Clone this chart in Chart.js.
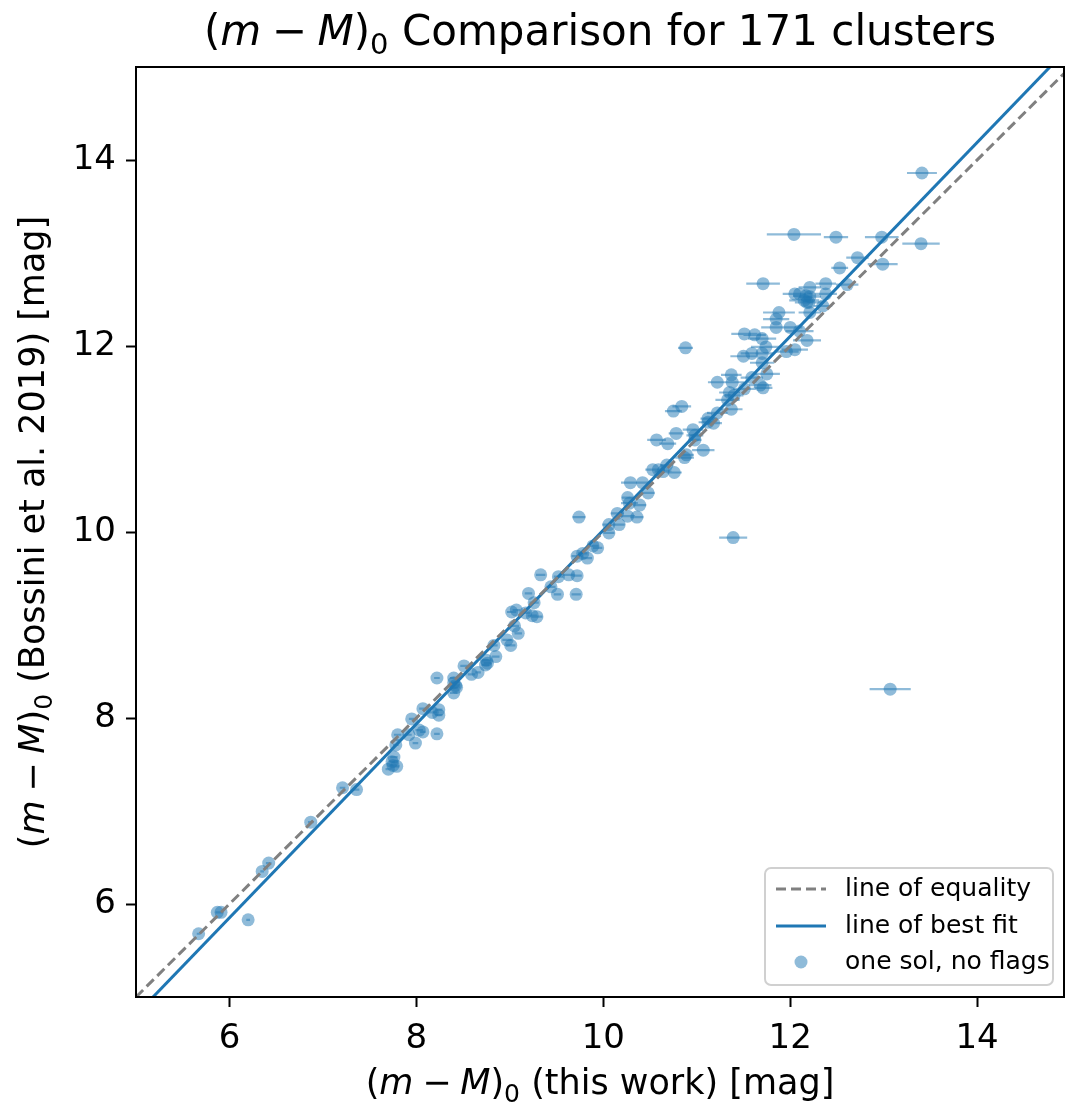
<!DOCTYPE html>
<html>
<head>
<meta charset="utf-8">
<script src="https://cdn.jsdelivr.net/npm/chart.js@4.4.1/dist/chart.umd.min.js"></script>
<style>
  html, body { margin: 0; padding: 0; background: #fff; }
  #wrap { width: 1066px; height: 1108px; }
</style>
</head>
<body>
<div id="wrap"><canvas id="myChart" width="1066" height="1108"></canvas></div>
<script>
// distance moduli: this work (x), Bossini et al. 2019 (y), x error half-width
const thisWork = [
    5.67, 5.87, 5.91, 6.20, 6.35, 6.42, 6.87, 7.21, 7.36, 7.70,
    7.75, 7.79, 7.76, 7.74, 7.78, 7.80, 7.95, 7.92, 7.99, 8.03,
    8.07, 8.22, 8.07, 8.17, 8.24, 8.24, 8.22, 8.40, 8.42, 8.43,
    8.40, 8.40, 8.51, 8.59, 8.66, 8.75, 8.76, 8.74, 8.85, 8.83,
    8.97, 9.01, 9.05, 9.09, 9.02, 9.07, 9.17, 9.29, 9.24, 9.20,
    9.26, 9.33, 9.44, 9.51, 9.71, 9.52, 9.63, 9.72, 9.74, 9.72,
    9.78, 9.83, 9.89, 9.94, 10.06, 10.06, 10.15, 10.17, 10.26, 10.36,
    10.28, 10.39, 10.26, 10.48, 10.29, 10.42, 10.53, 10.59, 10.64, 10.68,
    10.76, 10.87, 10.89, 11.07, 10.57, 10.69, 10.78, 10.96, 10.98, 10.98,
    11.12, 11.12, 11.18, 11.22, 10.75, 10.84, 11.37, 11.33, 11.40, 11.35,
    11.51, 11.22, 11.38, 11.37, 11.68, 11.71, 11.75, 11.59, 11.70, 10.88,
    11.50, 11.59, 11.70, 11.74, 11.51, 11.62, 11.70, 11.96, 12.05, 12.18,
    11.85, 11.85, 11.88, 12.00, 12.10, 12.21, 12.20, 12.04, 12.49, 12.98,
    13.40, 13.41, 12.72, 12.99, 12.53, 11.71, 12.21, 12.38, 12.61, 12.05,
    12.10, 12.17, 12.21, 12.15, 12.18, 12.38, 12.35, 13.07, 11.39
];
const bossini = [
    5.68, 5.91, 5.91, 5.83, 6.35, 6.44, 6.88, 7.25, 7.23, 7.45,
    7.49, 7.48, 7.58, 7.53, 7.71, 7.82, 7.99, 7.82, 7.73, 7.87,
    7.85, 7.83, 8.10, 8.06, 8.09, 8.03, 8.43, 8.43, 8.35, 8.33,
    8.27, 8.38, 8.56, 8.47, 8.49, 8.62, 8.59, 8.57, 8.66, 8.78,
    8.84, 8.78, 8.99, 8.91, 9.14, 9.16, 9.13, 9.09, 9.10, 9.34,
    9.24, 9.54, 9.41, 9.33, 9.33, 9.52, 9.54, 9.53, 10.16, 9.74,
    9.77, 9.72, 9.85, 9.83, 10.08, 9.99, 10.20, 10.08, 10.17, 10.16,
    10.31, 10.29, 10.37, 10.42, 10.53, 10.53, 10.67, 10.67, 10.65, 10.72,
    10.64, 10.80, 10.83, 10.88, 10.99, 10.95, 11.06, 11.10, 11.04, 10.99,
    11.18, 11.22, 11.17, 11.28, 11.30, 11.35, 11.32, 11.42, 11.47, 11.50,
    11.54, 11.61, 11.61, 11.69, 11.58, 11.55, 11.70, 11.66, 11.82, 11.98,
    11.89, 11.92, 11.92, 11.99, 12.13, 12.12, 12.08, 11.94, 11.96, 12.06,
    12.20, 12.29, 12.36, 12.20, 12.16, 12.36, 12.47, 13.20, 13.17, 13.17,
    13.10, 13.86, 12.95, 12.88, 12.84, 12.67, 12.63, 12.67, 12.66, 12.56,
    12.56, 12.54, 12.53, 12.49, 12.47, 12.56, 12.43, 8.31, 9.94
];
const xErr = [
    0.02, 0.02, 0.02, 0.02, 0.02, 0.03, 0.03, 0.03, 0.03, 0.03,
    0.04, 0.03, 0.04, 0.03, 0.03, 0.04, 0.03, 0.03, 0.03, 0.04,
    0.03, 0.03, 0.04, 0.05, 0.04, 0.04, 0.03, 0.04, 0.05, 0.04,
    0.04, 0.03, 0.04, 0.04, 0.03, 0.05, 0.04, 0.04, 0.04, 0.04,
    0.05, 0.05, 0.05, 0.04, 0.05, 0.04, 0.05, 0.06, 0.05, 0.04,
    0.05, 0.05, 0.05, 0.04, 0.05, 0.05, 0.06, 0.05, 0.07, 0.06,
    0.05, 0.05, 0.06, 0.05, 0.07, 0.06, 0.07, 0.06, 0.08, 0.07,
    0.09, 0.07, 0.06, 0.07, 0.10, 0.09, 0.08, 0.07, 0.09, 0.07,
    0.08, 0.10, 0.08, 0.12, 0.10, 0.09, 0.08, 0.11, 0.09, 0.07,
    0.10, 0.08, 0.09, 0.11, 0.09, 0.10, 0.12, 0.13, 0.10, 0.11,
    0.12, 0.10, 0.13, 0.11, 0.12, 0.10, 0.14, 0.12, 0.13, 0.08,
    0.14, 0.12, 0.13, 0.16, 0.14, 0.12, 0.15, 0.13, 0.14, 0.15,
    0.16, 0.14, 0.17, 0.13, 0.15, 0.12, 0.14, 0.29, 0.13, 0.18,
    0.20, 0.16, 0.12, 0.16, 0.09, 0.18, 0.12, 0.11, 0.12, 0.13,
    0.15, 0.14, 0.12, 0.16, 0.13, 0.12, 0.10, 0.22, 0.15
];

const xTicks = [6, 8, 10, 12, 14];
const yTicks = [6, 8, 10, 12, 14];
const fitSlope = 1.042;
const fitIntercept = -0.40;

const FONT = "'DejaVu Sans', sans-serif";
const BLUE = '#1f77b4';
const BLUE_A = 'rgba(31, 119, 180, 0.5)';

// (m - M)_0 pieces: n = normal, i = italic, s = subscript
const mM0 = [['(', 'n'], ['m', 'i'], ['\u2005\u2212\u2005', 'n'], ['M', 'i'], [')', 'n'], ['0', 's']];

function partFont(style, size) {
    if (style === 'i') return 'italic ' + size + 'px ' + FONT;
    if (style === 's') return Math.round(size * 0.7) + 'px ' + FONT;
    return size + 'px ' + FONT;
}

function drawRich(ctx, parts, cx, baseY, size) {
    let total = 0;
    parts.forEach(function (p) {
        ctx.font = partFont(p[1], size);
        total += ctx.measureText(p[0]).width;
    });
    let x = cx - total / 2;
    ctx.textAlign = 'left';
    ctx.textBaseline = 'alphabetic';
    parts.forEach(function (p) {
        ctx.font = partFont(p[1], size);
        let dy = p[1] === 's' ? size * 0.22 : 0;
        ctx.fillText(p[0], x, baseY + dy);
        x += ctx.measureText(p[0]).width;
    });
}

const decorPlugin = {
    id: 'decor',
    afterDatasetsDraw: function (chart) {
        const ctx = chart.ctx;
        const a = chart.chartArea;
        ctx.save();
        // frame
        ctx.strokeStyle = '#000';
        ctx.lineWidth = 2;
        ctx.strokeRect(a.left, a.top, a.right - a.left, a.bottom - a.top);

        // legend box
        const w = 288, h = 117;
        const lx = a.right - 11 - w, ly = a.bottom - 12 - h;
        ctx.beginPath();
        ctx.roundRect(lx, ly, w, h, 6);
        ctx.fillStyle = 'rgba(255,255,255,0.8)';
        ctx.fill();
        ctx.strokeStyle = '#d0d0d0';
        ctx.lineWidth = 2;
        ctx.stroke();

        const rows = [ly + 21, ly + 58, ly + 94];
        ctx.lineWidth = 3;
        ctx.strokeStyle = 'gray';
        ctx.setLineDash([10, 5]);
        ctx.beginPath();
        ctx.moveTo(lx + 11, rows[0]);
        ctx.lineTo(lx + 61, rows[0]);
        ctx.stroke();
        ctx.setLineDash([]);
        ctx.strokeStyle = BLUE;
        ctx.beginPath();
        ctx.moveTo(lx + 11, rows[1]);
        ctx.lineTo(lx + 61, rows[1]);
        ctx.stroke();
        ctx.fillStyle = BLUE_A;
        ctx.beginPath();
        ctx.arc(lx + 36, rows[2], 6.5, 0, Math.PI * 2);
        ctx.fill();

        ctx.fillStyle = '#000';
        ctx.font = '25px ' + FONT;
        ctx.textAlign = 'left';
        ctx.textBaseline = 'middle';
        ctx.fillText('line of equality', lx + 80, rows[0]);
        ctx.fillText('line of best fit', lx + 80, rows[1]);
        ctx.fillText('one sol, no flags', lx + 80, rows[2]);
        ctx.restore();
    },
    afterDraw: function (chart) {
        const ctx = chart.ctx;
        const a = chart.chartArea;
        const cx = (a.left + a.right) / 2;
        ctx.save();
        ctx.fillStyle = '#000';
        drawRich(ctx, mM0.concat([[' Comparison for 171 clusters', 'n']]), cx, 45, 42);
        drawRich(ctx, mM0.concat([[' (this work) [mag]', 'n']]), cx, 1094, 35);
        ctx.translate(44, (a.top + a.bottom) / 2);
        ctx.rotate(-Math.PI / 2);
        drawRich(ctx, mM0.concat([[' (Bossini et al. 2019) [mag]', 'n']]), 0, 0, 35);
        ctx.restore();
    }
};

const points = thisWork.map(function (x, i) { return { x: x, y: bossini[i] }; });
const errBars = [];
thisWork.forEach(function (x, i) {
    errBars.push({ x: x - xErr[i], y: bossini[i] });
    errBars.push({ x: x + xErr[i], y: bossini[i] });
    errBars.push({ x: NaN, y: NaN });
});

new Chart(document.getElementById('myChart'), {
    type: 'scatter',
    data: {
        datasets: [{
            type: 'line',
            label: 'line of equality',
            data: [{ x: 5, y: 5 }, { x: 15, y: 15 }],
            borderColor: 'gray',
            borderWidth: 3,
            borderDash: [10, 5],
            pointRadius: 0,
            fill: false,
            order: 0
        }, {
            type: 'line',
            label: 'line of best fit',
            data: [{ x: 4.5, y: fitSlope * 4.5 + fitIntercept }, { x: 15.5, y: fitSlope * 15.5 + fitIntercept }],
            borderColor: BLUE,
            borderWidth: 3,
            pointRadius: 0,
            fill: false,
            order: 1
        }, {
            type: 'line',
            label: 'errors',
            data: errBars,
            borderColor: BLUE_A,
            borderWidth: 2.2,
            pointRadius: 0,
            spanGaps: false,
            fill: false,
            order: 3
        }, {
            label: 'one sol, no flags',
            data: points,
            backgroundColor: BLUE_A,
            borderWidth: 0,
            pointRadius: 6.5,
            pointHoverRadius: 6.5,
            order: 2
        }]
    },
    options: {
        responsive: false,
        animation: false,
        devicePixelRatio: 1,
        layout: { autoPadding: false, padding: { top: 67, right: 2, left: 0, bottom: 0 } },
        plugins: {
            legend: { display: false },
            tooltip: { enabled: false },
            title: { display: false }
        },
        scales: {
            x: {
                type: 'linear',
                min: 5,
                max: 14.93,
                afterBuildTicks: function (s) { s.ticks = xTicks.map(function (v) { return { value: v }; }); },
                afterFit: function (s) { s.height = 111; s.paddingLeft = 0; s.paddingRight = 0; },
                ticks: { font: { family: FONT, size: 34 }, color: '#000', padding: 12, autoSkip: false, maxRotation: 0 },
                grid: { drawOnChartArea: false, tickLength: 10, tickWidth: 2, tickColor: '#000' },
                border: { display: false }
            },
            y: {
                type: 'linear',
                min: 5,
                max: 15,
                afterBuildTicks: function (s) { s.ticks = yTicks.map(function (v) { return { value: v }; }); },
                afterFit: function (s) { s.width = 136; s.paddingTop = 0; s.paddingBottom = 0; },
                ticks: { font: { family: FONT, size: 34 }, color: '#000', padding: 10, autoSkip: false },
                grid: { drawOnChartArea: false, tickLength: 10, tickWidth: 2, tickColor: '#000' },
                border: { display: false }
            }
        }
    },
    plugins: [decorPlugin]
});
</script>
</body>
</html>
